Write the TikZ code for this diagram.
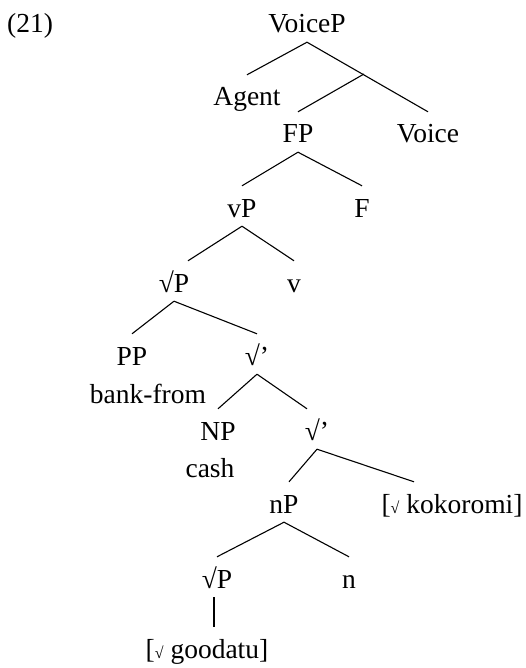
\documentclass[tikz,border=0pt]{standalone}
\usepackage{fontspec}
\setmainfont{Liberation Serif}
\begin{document}
\begin{tikzpicture}[x=1pt,y=-1pt,
  lab/.style={anchor=base,inner sep=0pt,text height=31pt,text depth=9pt,font=\fontsize{27.5}{33}\selectfont},
  gloss/.style={anchor=base,inner sep=0pt,font=\fontsize{27.5}{33}\selectfont},
  br/.style={line width=1.1pt}]
\useasboundingbox (0,0) rectangle (526,668);
\node[gloss,anchor=base west] (ex) at (7,33) {(21)};
\node[lab] (VoiceP) at (307,33) {VoiceP};
\node[lab] (Agent) at (247,106) {Agent};
\coordinate (vbar) at (364,74);
\node[lab] (FP) at (298,143) {FP};
\node[lab] (Voice) at (428,143) {Voice};
\node[lab] (vP) at (242,217) {vP};
\node[lab] (F) at (362,217) {F};
\node[lab] (sqP) at (174,292) {√P};
\node[lab] (v) at (294,292) {v};
\node[lab] (PP) at (132,365) {PP};
\node[lab] (sqbar) at (257,365) {√’};
\node[gloss] (bank) at (148,403) {bank-from};
\node[lab] (NP) at (218,440) {NP};
\node[lab] (sqbarb) at (317,440) {√’};
\node[gloss] (cash) at (210,477) {cash};
\node[lab] (nP) at (284,513) {nP};
\node[lab] (koko) at (452,513) {[{\fontsize{16}{16}\selectfont √} kokoromi]};
\node[lab] (sqPb) at (217,588) {√P};
\node[lab] (n) at (349,588) {n};
\node[lab] (good) at (207,658) {[{\fontsize{16}{16}\selectfont √} goodatu]};
\draw[br] (VoiceP.south) -- (Agent.north);
\draw[br] (VoiceP.south) -- (Voice.north);
\draw[br] (vbar) -- (FP.north);
\draw[br] (FP.south) -- (vP.north);
\draw[br] (FP.south) -- (F.north);
\draw[br] (vP.south) -- ([xshift=14pt]sqP.north);
\draw[br] (vP.south) -- (v.north);
\draw[br] (sqP.south) -- (PP.north);
\draw[br] (sqP.south) -- (sqbar.north);
\draw[br] (sqbar.south) -- (NP.north);
\draw[br] (sqbar.south) -- ([xshift=-10pt]sqbarb.north);
\draw[br] (sqbarb.south) -- ([xshift=5pt]nP.north);
\draw[br] (sqbarb.south) -- ([xshift=-38pt]koko.north);
\draw[br] (nP.south) -- (sqPb.north);
\draw[br] (nP.south) -- (n.north);
\draw[br] ([xshift=-3pt]sqPb.south) -- ([xshift=-3pt]sqPb.south |- good.north);
\end{tikzpicture}
\end{document}
